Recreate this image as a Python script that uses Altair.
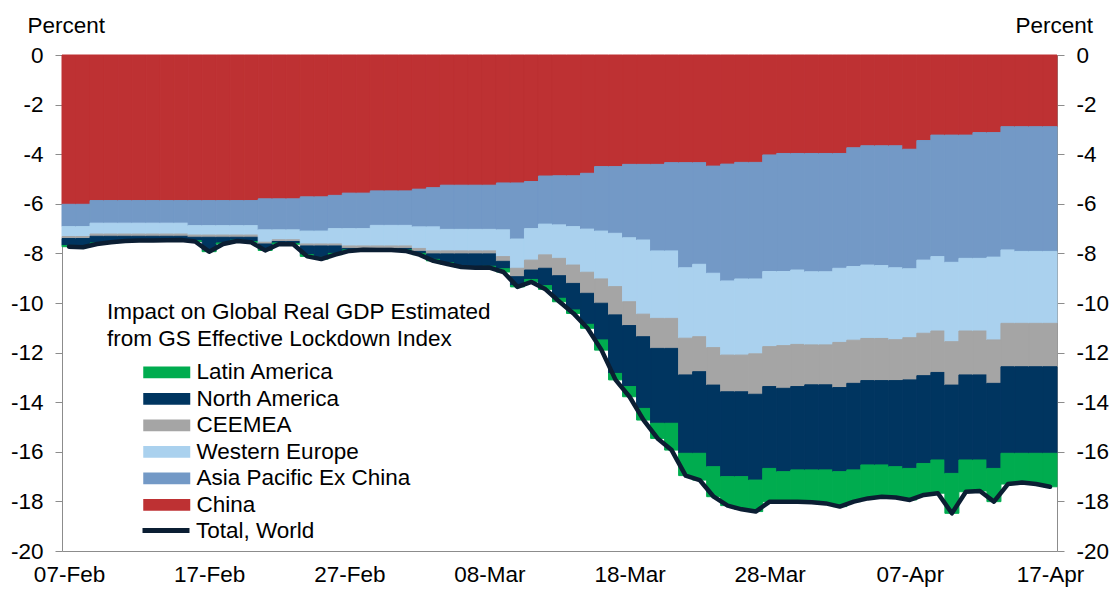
import altair as alt
import pandas as pd

# ---------------- data ----------------
start_date = "2020-02-07"
end_date = "2020-04-17"

# Lower edge of each stacked layer (percent, magnitude), one value per day
china_level = [6.02, 6.02,
               5.87, 5.87, 5.87, 5.87, 5.87, 5.87, 5.87, 5.87, 5.87, 5.87, 5.87, 5.87,
               5.80, 5.80, 5.80, 5.72, 5.72, 5.66, 5.57, 5.57, 5.48, 5.48, 5.48,
               5.41, 5.35, 5.25, 5.25, 5.25, 5.25, 5.16, 5.16, 5.10, 4.88,
               4.87, 4.87, 4.77, 4.50, 4.50, 4.41, 4.41, 4.41, 4.34, 4.34, 4.34,
               4.48, 4.40, 4.33, 4.33, 4.03, 3.97, 3.97, 3.97, 3.97, 3.97,
               3.74, 3.66, 3.66, 3.66, 3.80, 3.45, 3.23, 3.23, 3.23, 3.13, 3.13,
               2.89, 2.89, 2.89, 2.89]
asia_level = [6.92, 6.92,
              6.78, 6.78, 6.78, 6.78, 6.78, 6.78, 6.78,
              6.88, 6.88, 6.88, 6.88, 6.88,
              7.05, 7.05, 7.05, 7.10, 7.10, 7.00, 7.00, 7.00, 6.87, 6.87, 6.87,
              6.93, 6.93, 7.03, 7.03, 7.03, 7.03,
              7.05, 7.42, 7.00, 6.82, 6.85, 6.92, 7.02, 7.10, 7.19, 7.37, 7.46,
              7.90, 7.90, 8.58, 8.44, 8.80, 9.11, 9.03, 9.03, 8.73, 8.73, 8.67,
              8.74, 8.74, 8.60, 8.53, 8.47, 8.49, 8.58, 8.62, 8.27, 8.13, 8.36,
              8.20, 8.20, 8.15, 7.86, 7.92, 7.92, 7.92]
weur_level = [7.32, 7.32,
              7.22, 7.22, 7.22, 7.22, 7.22, 7.22, 7.22,
              7.26, 7.26, 7.26, 7.26, 7.26,
              7.55, 7.45, 7.45, 7.62, 7.62, 7.62, 7.70, 7.70, 7.70, 7.70, 7.70,
              7.80, 7.90, 7.90, 7.90, 7.90, 7.90,
              8.13, 8.60, 8.27, 8.06, 8.20, 8.47, 8.76, 9.03, 9.34, 9.95, 10.45,
              10.62, 10.62, 11.42, 11.36, 11.80, 12.10, 12.10, 12.05, 11.76, 11.72, 11.67,
              11.69, 11.69, 11.59, 11.50, 11.43, 11.43, 11.48, 11.40, 11.22, 11.13, 11.56,
              11.13, 11.13, 11.49, 10.82, 10.82, 10.82, 10.82]
ceemea_level = [7.40, 7.40,
                7.31, 7.31, 7.31, 7.31, 7.31, 7.31, 7.31,
                7.35, 7.35, 7.35, 7.35, 7.35,
                7.62, 7.52, 7.52, 7.70, 7.70, 7.70, 7.80, 7.80, 7.80, 7.80, 7.80,
                7.92, 8.02, 8.02, 8.02, 8.02, 8.02,
                8.32, 8.94, 8.67, 8.60, 8.90, 9.21, 9.61, 10.01, 10.48, 10.91, 11.36,
                11.83, 11.83, 12.90, 12.77, 13.31, 13.58, 13.58, 13.68, 13.37, 13.44, 13.37,
                13.30, 13.30, 13.41, 13.24, 13.13, 13.13, 13.13, 13.10, 12.93, 12.80, 13.31,
                12.90, 12.90, 13.24, 12.57, 12.57, 12.57, 12.57]
namer_level = [7.68, 7.70, 7.58, 7.52, 7.48, 7.46, 7.46, 7.45, 7.44, 7.49,
               7.88, 7.58, 7.47, 7.52, 7.84, 7.58, 7.60, 8.05, 8.16, 8.00,
               7.86, 7.82, 7.83, 7.83, 7.86, 8.00, 8.24, 8.38, 8.50, 8.53,
               8.52, 8.62, 9.30, 9.05, 9.30, 9.81, 10.28, 10.86, 11.49, 12.84,
               13.37, 14.25, 14.85, 14.85, 16.06, 16.06, 16.60, 17.00, 17.00, 17.14,
               16.67, 16.80, 16.73, 16.73, 16.73, 16.80, 16.73, 16.53, 16.53, 16.60,
               16.67, 16.47, 16.33, 16.87, 16.33, 16.33, 16.67, 16.06, 16.06, 16.06, 16.06]
total_world = [7.73, 7.75, 7.62, 7.55, 7.50, 7.48, 7.48, 7.47, 7.46, 7.52,
               7.93, 7.62, 7.50, 7.55, 7.88, 7.62, 7.63, 8.12, 8.23, 8.05,
               7.90, 7.85, 7.86, 7.86, 7.90, 8.05, 8.30, 8.43, 8.55, 8.58,
               8.57, 8.75, 9.35, 9.15, 9.45, 9.95, 10.42, 11.02, 11.90, 13.10,
               13.78, 14.72, 15.46, 15.93, 16.96, 17.14, 17.81, 18.17, 18.32, 18.41,
               18.01, 18.01, 18.01, 18.03, 18.08, 18.21, 18.01, 17.88, 17.81, 17.84,
               17.94, 17.74, 17.67, 18.48, 17.61, 17.58, 18.01, 17.30, 17.24, 17.30, 17.41]

regions = ["China", "Asia Pacific Ex China", "Western Europe", "CEEMEA",
           "North America", "Latin America"]
legend_order = ["Latin America", "North America", "CEEMEA", "Western Europe",
                "Asia Pacific Ex China", "China"]
region_colors = {"China": "#BE3133", "Asia Pacific Ex China": "#7399C6",
                 "Western Europe": "#AAD1EE", "CEEMEA": "#A5A5A5",
                 "North America": "#003560", "Latin America": "#00AC4F"}
line_name = "Total, World"
line_color = "#0B1E33"
tick_dates = ["2020-02-07", "2020-02-17", "2020-02-27", "2020-03-08",
              "2020-03-18", "2020-03-28", "2020-04-07", "2020-04-17"]
legend_title = "Impact on Global Real GDP Estimated\nfrom GS Effective Lockdown Index"

# ---------------- build tables ----------------
dates = pd.date_range(start_date, end_date, freq="D")
levels = [china_level, asia_level, weur_level, ceemea_level, namer_level, total_world]
for lv in levels:
    assert len(lv) == len(dates), len(lv)

def ms(ts):
    return int(pd.Timestamp(ts).tz_localize("UTC").value // 10**6)

DAY = 86400000
rows = []
for i, d in enumerate(dates):
    prev = 0.0
    for k, r in enumerate(regions):
        lvl = levels[k][i]
        rows.append({
            "start": ms(d),
            "end": ms(d) + DAY,
            "region": r,
            "ord": k,
            "value": -(lvl - prev),
        })
        prev = lvl
bars_df = pd.DataFrame(rows)

line_df = pd.DataFrame({
    "mid": [ms(d) + DAY // 2 for d in dates],
    "total": [-v for v in total_world],
    "series": line_name,
})

FONT = "Liberation Sans"
FS = 22.5
GREY = "#8C8C8C"

x_scale = alt.Scale(type="utc", domain=[ms(dates[0]), ms(dates[-1]) + DAY])
y_scale = alt.Scale(domain=[-20, 0], nice=False, zero=False)

x_axis = alt.Axis(values=[ms(t) + DAY // 2 for t in tick_dates], format="%d-%b",
                  tickSize=0, labelPadding=12, labelFontSize=FS, labelFont=FONT,
                  labelColor="#000000", domainColor=GREY, tickColor=GREY, grid=False,
                  title=None, labelAngle=0, labelFlush=False)

def y_axis(orient, title_x):
    return alt.Axis(orient=orient, values=list(range(-20, 1, 2)), tickSize=7,
                    labelPadding=12, labelFontSize=FS, labelFont=FONT, labelColor="#000000",
                    labelExpr="'' + datum.value",
                    domainColor=GREY, tickColor=GREY, grid=False,
                    title="Percent", titleAngle=0, titleAlign="left", titleX=title_x,
                    titleY=-23, titleBaseline="alphabetic", titleFontWeight="normal",
                    titleFontSize=FS, titleFont=FONT, titleColor="#000000",
                    labelFlush=False, labelOverlap=False)

color_scale = alt.Scale(domain=legend_order, range=[region_colors[r] for r in legend_order])

SYM = 23.5  # nominal symbol size (px); the path below is twice as wide
bars = alt.Chart(bars_df).transform_stack(
    stack="value", groupby=["start"], as_=["y_lo", "y_hi"],
    sort=[alt.SortField("ord", order="ascending")], offset="zero",
).mark_rect(strokeWidth=1.0).encode(
    x=alt.X("start:T", scale=x_scale, axis=x_axis),
    x2="end:T",
    y=alt.Y("y_lo:Q", scale=y_scale, axis=y_axis("left", -35)),
    y2="y_hi:Q",
    color=alt.Color("region:N", scale=color_scale,
                    legend=alt.Legend(orient="none", legendX=81 + SYM / 2, legendY=372 - 55 - SYM / 2,
                                      title=None,
                                      symbolType="M-2,-0.5L2,-0.5L2,0.5L-2,0.5Z",
                                      symbolSize=SYM * SYM, symbolStrokeWidth=0,
                                      labelFontSize=FS, labelFont=FONT, labelColor="#000000",
                                      labelOffset=SYM / 2 + 6, rowPadding=2.5, padding=0,
                                      labelLimit=400, symbolOpacity=1)),
    stroke=alt.Stroke("region:N", scale=color_scale, legend=None),
)

line = alt.Chart(line_df).mark_line(strokeWidth=4.5, strokeJoin="round", strokeCap="round").encode(
    x=alt.X("mid:T", scale=x_scale, axis=x_axis),
    y=alt.Y("total:Q", scale=y_scale, axis=y_axis("right", -42)),
    stroke=alt.Stroke("series:N", scale=alt.Scale(domain=[line_name], range=[line_color]),
                      legend=alt.Legend(orient="none", legendX=78, legendY=449.5, title=None,
                                        symbolType="stroke", symbolSize=2209,
                                        symbolStrokeWidth=5, symbolStrokeColor=line_color,
                                        labelFontSize=FS, labelFont=FONT, labelColor="#000000",
                                        labelOffset=4, padding=0, labelLimit=400)),
)

title_df = pd.DataFrame({"t": [legend_title]})
title_text = alt.Chart(title_df).mark_text(
    align="left", baseline="alphabetic", fontSize=FS, font=FONT, color="#000000",
    lineBreak="\n", lineHeight=27,
).encode(x=alt.value(45), y=alt.value(264), text="t:N")

chart = alt.layer(bars, line, title_text).resolve_axis(y="independent").resolve_scale(
    color="independent", stroke="independent"
).properties(
    width=995, height=496,
    padding={"left": 62, "top": 55, "right": 59, "bottom": 39},
    autosize=alt.AutoSizeParams(type="none"),
).configure_view(stroke=None).configure(background="white")

chart.save("out.html", embed_options={"renderer": "svg", "actions": False})
